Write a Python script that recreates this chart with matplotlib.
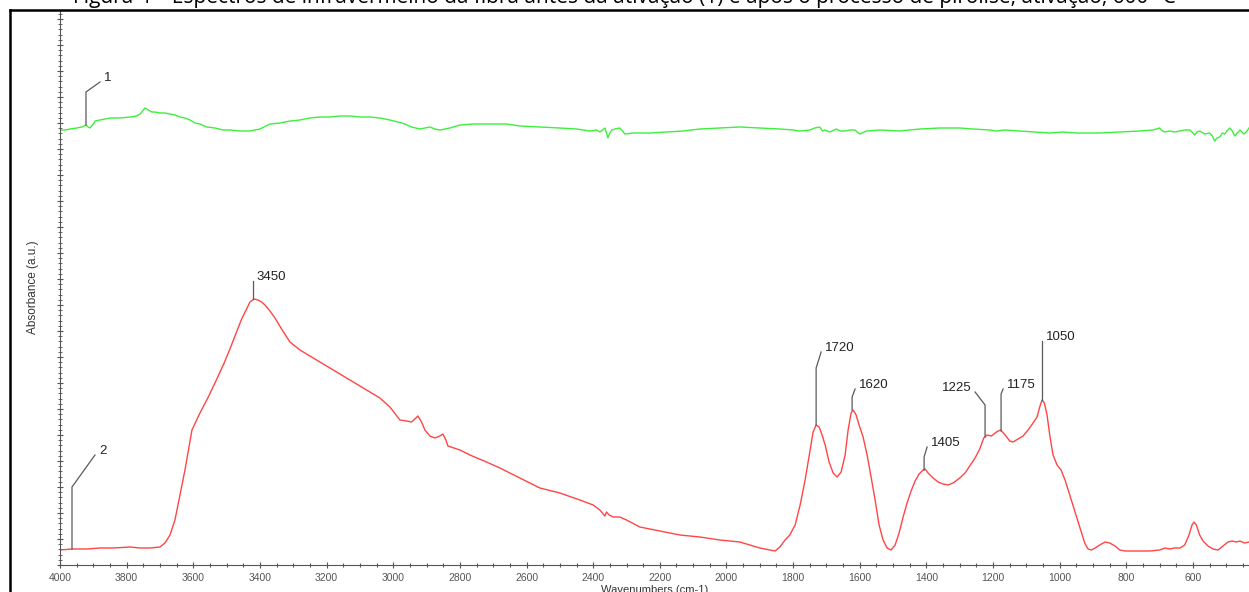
import matplotlib
matplotlib.use("Agg")
from matplotlib import pyplot as plt
from matplotlib.lines import Line2D
from matplotlib.ticker import MultipleLocator, AutoMinorLocator

plt.rcParams['font.family'] = ['Liberation Sans', 'DejaVu Sans']

# spectrum 2 (red), absorbance in arbitrary units
red_wn = [4000, 3964, 3920, 3880, 3840, 3790, 3760, 3730, 3700, 3685, 3670, 3655,
          3640, 3625, 3604, 3580, 3555, 3535, 3510, 3490, 3470, 3455, 3440, 3430,
          3418, 3406, 3395, 3385, 3370, 3355, 3335, 3310, 3280, 3250, 3220, 3180,
          3130, 3090, 3040, 3010, 2980, 2960, 2945, 2935, 2926, 2915, 2905, 2890,
          2875, 2860, 2851, 2842, 2836, 2800, 2770, 2720, 2680, 2620, 2560, 2500,
          2440, 2400, 2380, 2365, 2360, 2352, 2340, 2320, 2300, 2260, 2200, 2140,
          2080, 2020, 1960, 1930, 1900, 1870, 1854, 1840, 1824, 1810, 1794, 1779,
          1764, 1749, 1740, 1731, 1722, 1713, 1704, 1692, 1680, 1668, 1656, 1644,
          1635, 1626, 1620, 1611, 1602, 1590, 1578, 1566, 1554, 1542, 1530, 1518,
          1506, 1494, 1482, 1470, 1458, 1446, 1434, 1422, 1410, 1404, 1395, 1380,
          1365, 1350, 1335, 1320, 1300, 1284, 1268, 1254, 1240, 1228, 1218, 1205,
          1190, 1178, 1166, 1150, 1140, 1125, 1110, 1095, 1080, 1068, 1060, 1053,
          1046, 1038, 1030, 1020, 1008, 996, 984, 970, 954, 940, 925, 915, 905, 894,
          880, 864, 850, 834, 820, 804, 770, 729, 700, 684, 670, 655, 639, 625, 612,
          603, 597, 590, 580, 570, 555, 540, 525, 510, 495, 483, 470, 459, 445, 432]
red_abs = [15, 16, 16, 17, 17, 18, 17, 17, 18, 22, 30, 45,
           70, 95, 135, 152, 168, 182, 200, 216, 233, 246, 256, 263,
           266, 265, 263, 260, 254, 247, 236, 223, 215, 209, 203, 195,
           185, 177, 167, 158, 145, 144, 143, 146, 149, 143, 135, 129,
           127, 129, 131, 125, 119, 115, 110, 103, 97, 87, 77, 72,
           65, 60, 55, 49, 53, 50, 48, 48, 45, 38, 34, 30,
           28, 25, 23, 20, 17, 15, 14, 18, 25, 30, 40, 60,
           85, 115, 133, 140, 138, 130, 120, 103, 92, 88, 93, 110,
           135, 152, 155, 150, 140, 128, 110, 88, 65, 40, 25, 17,
           15, 20, 32, 48, 62, 74, 84, 91, 95, 96, 92, 87,
           83, 81, 80, 82, 87, 92, 100, 107, 116, 127, 130, 129,
           133, 135, 131, 124, 123, 126, 129, 135, 142, 148, 158, 165,
           162, 150, 130, 110, 100, 95, 85, 70, 53, 38, 22, 16, 15, 17,
           20, 23, 22, 19, 15, 14, 14, 14, 15, 17, 16, 17, 17, 20, 30,
           40, 43, 40, 30, 24, 19, 16, 15, 19, 23, 24, 23, 24, 22, 23]

# spectrum 1 (green)
green_wn = [4000, 3985, 3970, 3950, 3935, 3922, 3916, 3910, 3900, 3895, 3880, 3865,
            3850, 3820, 3790, 3770, 3760, 3752, 3745, 3735, 3725, 3715, 3700, 3685,
            3670, 3655, 3640, 3625, 3610, 3595, 3580, 3560, 3535, 3510, 3490, 3460,
            3430, 3400, 3370, 3340, 3310, 3280, 3250, 3220, 3190, 3160, 3130, 3100,
            3070, 3040, 3010, 2985, 2965, 2945, 2920, 2905, 2890, 2875, 2860, 2830,
            2800, 2760, 2710, 2660, 2620, 2560, 2500, 2450, 2410, 2390, 2380, 2372,
            2365, 2360, 2356, 2350, 2344, 2335, 2320, 2312, 2305, 2280, 2230, 2180,
            2130, 2080, 2020, 1960, 1900, 1840, 1800, 1780, 1750, 1735, 1720, 1712,
            1705, 1690, 1670, 1658, 1645, 1630, 1615, 1600, 1580, 1540, 1480, 1420,
            1360, 1300, 1260, 1210, 1190, 1165, 1120, 1075, 1030, 990, 950, 880, 820,
            760, 720, 700, 692, 685, 670, 655, 640, 625, 610, 600, 595, 588, 580,
            565, 550, 542, 535, 528, 520, 512, 505, 498, 490, 482, 475, 467, 459,
            448, 440, 432]
green_abs = [435, 435, 436, 437, 438, 440, 438, 437, 441, 444, 445, 446,
             447, 447, 448, 449, 451, 454, 457, 455, 453, 453, 452, 452,
             451, 450, 448, 447, 445, 442, 441, 438, 437, 435, 435, 434,
             434, 436, 441, 442, 444, 445, 447, 448, 448, 449, 449, 448,
             448, 447, 445, 443, 441, 438, 436, 437, 438, 436, 435, 437,
             440, 441, 441, 441, 439, 438, 437, 436, 434, 435, 433, 435,
             437, 432, 427, 432, 435, 436, 437, 434, 431, 432, 432, 433,
             434, 436, 437, 438, 437, 436, 435, 434, 435, 437, 438, 434,
             435, 433, 436, 434, 434, 435, 435, 431, 434, 435, 434, 436,
             437, 437, 436, 435, 434, 435, 434, 433, 432, 433, 432, 432, 433,
             434, 435, 437, 434, 433, 434, 433, 434, 435, 435, 432, 430, 433, 434,
             431, 432, 429, 424, 427, 428, 432, 431, 434, 437, 434, 429, 432, 435,
             431, 433, 437]

xticks = list(range(4000, 500, -200))

# peak labels: text, curve point (wn, abs)
peak_text = ["1", "2", "3450", "1720", "1620", "1405", "1225", "1175", "1050"]
peak_wn = [3922, 3964, 3421, 1731, 1623, 1407, 1224, 1176, 1053]
peak_abs = [440, 16, 266, 140, 155, 95, 128, 134, 165]

fig = plt.figure(figsize=(12.49, 5.92), dpi=100)
ax = fig.add_axes([60 / 1249, 27 / 592, 1 - 60 / 1249, 555 / 592])

ax.plot(green_wn, green_abs, color='#3cf03c', lw=1.0)
ax.plot(red_wn, red_abs, color='#ff4545', lw=1.0)

ax.set_xlim(4000, 432)
ax.set_ylim(0, 555)

# leader geometry (in axis units): vertical rise, then end offset (dwn, dabs), text align
lead = {
    "1": (33, -42, 43, 'left'),
    "2": (62, -69, 94, 'left'),
    "3450": (18, 0, 18, 'left'),
    "1720": (57, -15, 73, 'left'),
    "1620": (13, -9, 21, 'left'),
    "1405": (13, -9, 23, 'left'),
    "1225": (32, 30, 45, 'right'),
    "1175": (37, -6, 42, 'left'),
    "1050": (59, 0, 59, 'left'),
}
for t, w, a in zip(peak_text, peak_wn, peak_abs):
    rise, dw, dy, ha = lead[t]
    ax.plot([w, w, w + dw], [a, a + rise, a + dy], color='#5a5a5a', lw=0.9)
    tx = w + dw - 12 if ha == 'left' else w + dw + 9
    ax.text(tx, a + dy - 2, t, ha=ha, va='bottom', fontsize=9.5, color='#222222')

for s in ['top', 'right']:
    ax.spines[s].set_visible(False)
for s in ['left', 'bottom']:
    ax.spines[s].set_color('#555555')
    ax.spines[s].set_linewidth(0.8)

ax.set_xticks(xticks)
ax.xaxis.set_minor_locator(MultipleLocator(50))
ax.yaxis.set_major_locator(MultipleLocator(26))
ax.yaxis.set_minor_locator(AutoMinorLocator(5))
ax.tick_params(axis='x', which='major', direction='inout', length=5, width=0.8,
               colors='#555555', labelsize=7.5, pad=3)
ax.tick_params(axis='x', which='minor', direction='inout', length=3, width=0.8,
               colors='#555555')
ax.tick_params(axis='y', which='major', direction='inout', length=5, width=0.8,
               colors='#555555', labelleft=False)
ax.tick_params(axis='y', which='minor', direction='inout', length=3, width=0.7,
               colors='#666666')

ax.set_xlabel("Wavenumbers (cm-1)", fontsize=8, color='#333333', labelpad=2)
ax.set_ylabel("Absorbance (a.u.)", fontsize=8.5, color='#333333', labelpad=10)

# outer frame of the embedded picture
fig.add_artist(Line2D([10 / 1249, 1], [1 - 10 / 592, 1 - 10 / 592],
                      color='black', lw=1.8, transform=fig.transFigure))
fig.add_artist(Line2D([10 / 1249, 10 / 1249], [0, 1 - 10 / 592],
                      color='black', lw=1.8, transform=fig.transFigure))

# caption above, mostly cut off by the page
fig.text(0.5, 1 - 2.5 / 592,
         "Figura 4 – Espectros de infravermelho da fibra antes da ativação (1) e após o processo de pirólise, ativação, 600 °C",
         ha='center', va='baseline', fontsize=15, family=['Open Sans', 'DejaVu Sans'])

fig.savefig("out.png", dpi=100)
